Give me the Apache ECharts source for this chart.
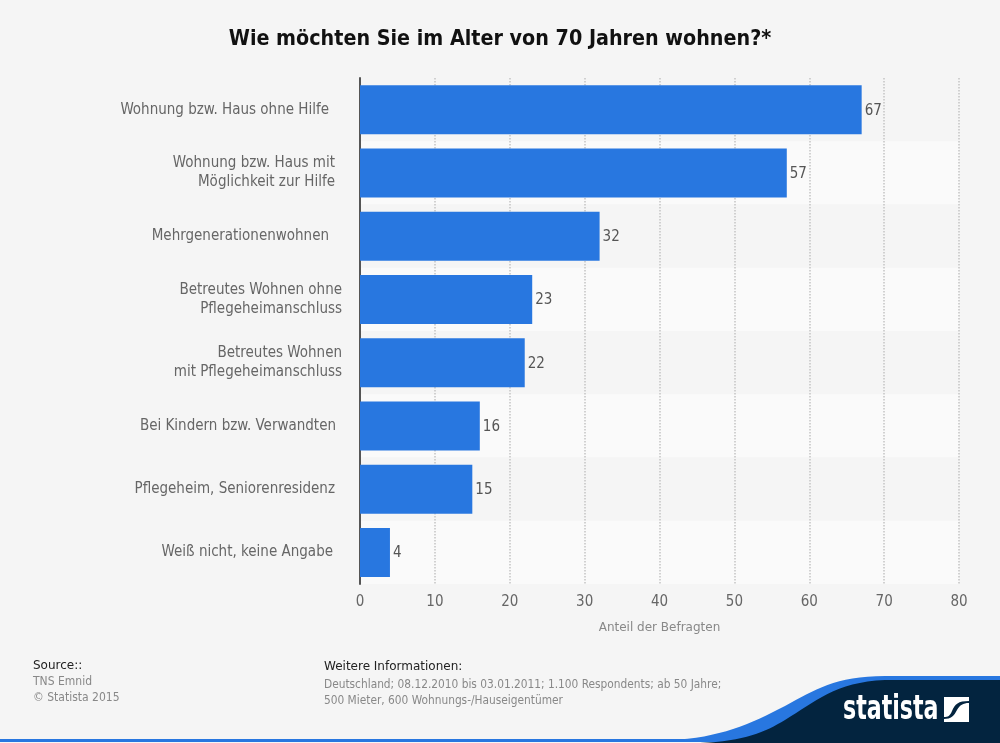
<!DOCTYPE html>
<html>
<head>
<meta charset="utf-8">
<style>html,body{margin:0;padding:0;background:#f5f5f5}#container{width:1000px;height:743px}</style>
<script src="https://cdn.jsdelivr.net/npm/echarts@6/dist/echarts.min.js"></script>
</head>
<body>
<div id="container"></div>
<script>
var categories = [
  "Wohnung bzw. Haus ohne Hilfe",
  "Wohnung bzw. Haus mit\nMöglichkeit zur Hilfe",
  "Mehrgenerationenwohnen",
  "Betreutes Wohnen ohne\nPflegeheimanschluss",
  "Betreutes Wohnen\nmit Pflegeheimanschluss",
  "Bei Kindern bzw. Verwandten",
  "Pflegeheim, Seniorenresidenz",
  "Weiß nicht, keine Angabe"
];
var values = [67, 57, 32, 23, 22, 16, 15, 4];
// the labels do not end on one line in the original
var labelGaps = [13, 7, 13, 0, 0, 6, 7, 9];

var font = "DejaVu Sans Condensed";
var dom = document.getElementById('container');
var myChart = echarts.init(dom, null, { renderer: 'canvas' });

echarts.graphic.registerShape("swooshBlue", echarts.graphic.extendPath(
  "M670 740 C720 738 750 724 785 706 C815 690 835 676 885 676 L1000 676 L1000 741 Z"));
echarts.graphic.registerShape("swooshDark", echarts.graphic.extendPath(
  "M700 743 C745 741 765 732 785 720 C815 702 835 682 885 680 L1000 680 L1000 743 Z"));
echarts.graphic.registerShape("logoMark", echarts.graphic.extendPath(
  "M944 697 L969 697 L969 701 C958 701 955 704 952 711 C950 716 948 717 944 717 Z " +
  "M969 703 L969 722 L944 722 L944 719 C951 719 954 716 957 710 C960 705 963 703 969 703 Z"));

var rich = { t: { fontFamily: font, fontSize: 15, color: "#666", lineHeight: 19 } };
labelGaps.forEach(function (g) {
  rich["g" + g] = { width: g, height: 1 };
});

function footerText(x, y, text, color, family, size) {
  return {
    type: "text", x: x, y: y, z: 5,
    style: { text: text, fill: color, font: (size || 12) + "px '" + (family || font) + "'", lineHeight: 16 }
  };
}

var option = {
  backgroundColor: "#f5f5f5",
  animation: false,
  title: {
    text: "Wie möchten Sie im Alter von 70 Jahren wohnen?*",
    left: "center",
    top: 24,
    textStyle: { fontFamily: font, fontSize: 21.3, fontWeight: "bold", color: "#111" }
  },
  grid: { left: 360, right: 41, top: 78, bottom: 159 },
  xAxis: {
    type: "value",
    min: 0,
    max: 80,
    interval: 10,
    name: "Anteil der Befragten",
    nameLocation: "center",
    nameGap: 38,
    nameTextStyle: { fontFamily: "DejaVu Sans", fontSize: 12, color: "#888" },
    axisLine: { show: false },
    axisTick: { show: false },
    axisLabel: { fontFamily: font, fontSize: 15, color: "#666", margin: 11 },
    splitLine: { show: true, lineStyle: { type: "dotted", color: "#c4c4c4", width: 1.5 } }
  },
  yAxis: {
    type: "category",
    inverse: true,
    data: categories,
    axisLine: { show: true, onZero: false, lineStyle: { color: "#555", width: 2 } },
    axisTick: { show: false },
    axisLabel: {
      margin: 18,
      interval: 0,
      align: "right",
      rich: rich,
      formatter: function (value, index) {
        return value.split("\n").map(function (line) {
          return "{t|" + line + "}{g" + labelGaps[index] + "|\u200b}";
        }).join("\n");
      }
    },
    splitArea: { show: true, interval: 0, areaStyle: { color: ["#f5f5f5", "#fafafa"] } }
  },
  series: [
    {
      type: "bar",
      data: values,
      barWidth: 49,
      itemStyle: { color: "#2877e0" },
      label: {
        show: true,
        position: "right",
        distance: 3,
        offset: [0, 1],
        fontFamily: font,
        fontSize: 15,
        color: "#555"
      }
    }
  ],
  graphic: [
    footerText(33, 658, "Source::", "#222", "DejaVu Sans"),
    footerText(33, 674, "TNS Emnid", "#888"),
    footerText(33, 690, "© Statista 2015", "#888"),
    footerText(324, 659, "Weitere Informationen:", "#222", "DejaVu Sans"),
    footerText(324, 677, "Deutschland; 08.12.2010 bis 03.01.2011; 1.100 Respondents; ab 50 Jahre;", "#888", font, 11.8),
    footerText(324, 693, "500 Mieter, 600 Wohnungs-/Hauseigentümer", "#888", font, 11.8),
    // bottom stripe and logo swoosh
    { type: "rect", z: 3, shape: { x: 0, y: 739, width: 1000, height: 3 }, style: { fill: "#2877e0" } },
    { type: "swooshBlue", z: 3, style: { fill: "#2877e0" } },
    { type: "swooshDark", z: 4, style: { fill: "#03243f" } },
    {
      type: "text", x: 843, y: 694, z: 5, scaleX: 0.745,
      style: { text: "statista", fill: "#fff", font: "bold 33px '" + font + "'" }
    },
    { type: "logoMark", z: 5, style: { fill: "#fff" } }
  ]
};

myChart.setOption(option);
window.addEventListener('resize', myChart.resize);
</script>
</body>
</html>
